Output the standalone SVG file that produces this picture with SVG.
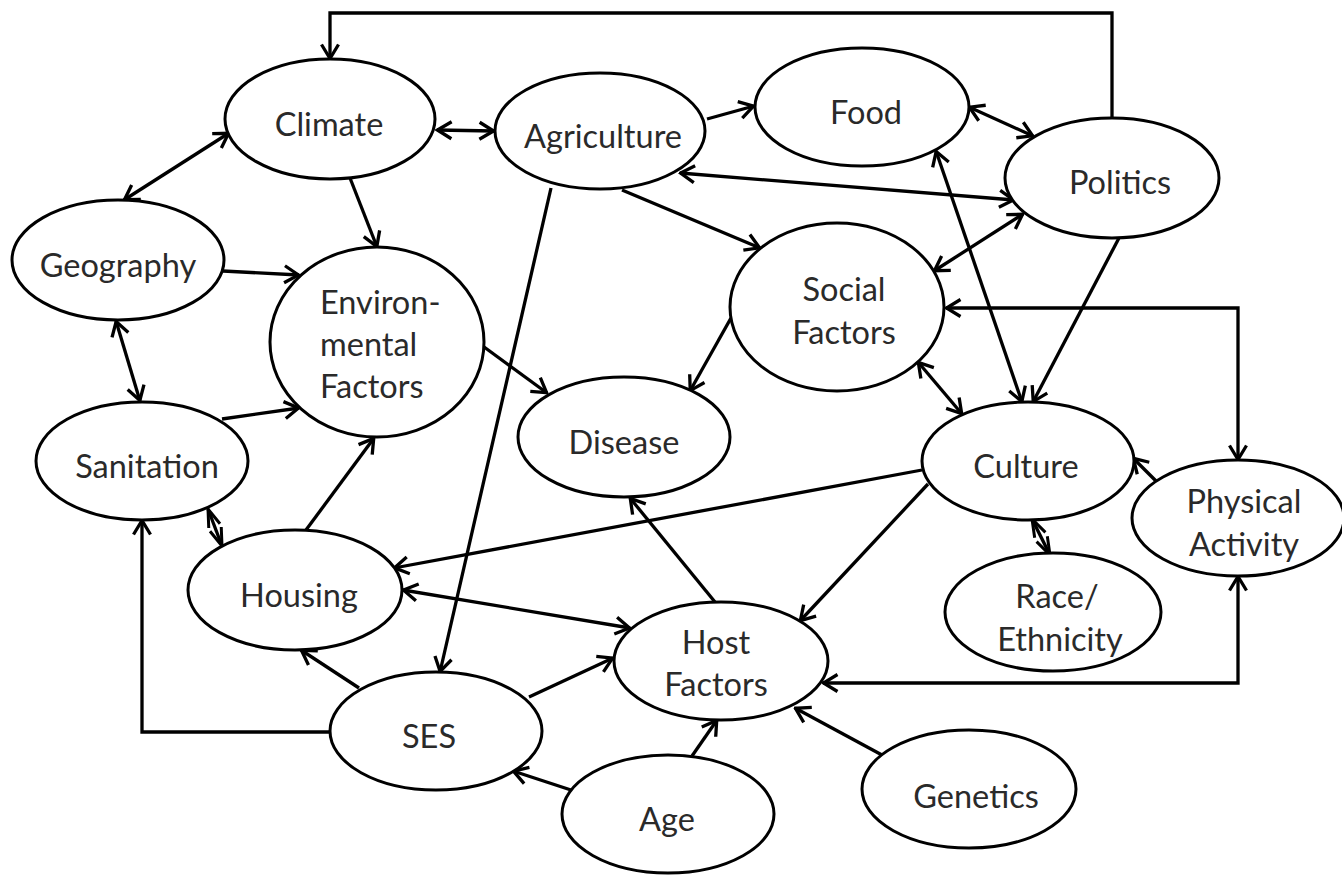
<svg xmlns="http://www.w3.org/2000/svg" width="1342" height="875" viewBox="0 0 1342 875">
<style>
.n ellipse{fill:#fff;stroke:#000;stroke-width:3}
.n text{font-family:Lato,"Open Sans","Liberation Sans",sans-serif;font-size:32.5px;fill:#2a2a2a;text-anchor:middle}
.c path{fill:none;stroke:#000;stroke-width:3.3}
.e{marker-end:url(#a)}
.d{marker-start:url(#a);marker-end:url(#a)}
.m{marker-start:url(#b);marker-end:url(#b)}
</style>
<defs>
<marker id="a" viewBox="0 0 18 22" refX="16.5" refY="11" markerWidth="18" markerHeight="22" markerUnits="userSpaceOnUse" orient="auto-start-reverse">
<path d="M2,2.5 L16,11 L2,19.5" fill="none" stroke="#000" stroke-width="3.3"/>
</marker>
<marker id="b" viewBox="0 0 22 16" refX="20" refY="8" markerWidth="22" markerHeight="16" markerUnits="userSpaceOnUse" orient="auto-start-reverse">
<path d="M2,2 L20,8 L2,14" fill="none" stroke="#000" stroke-width="3"/>
</marker>
</defs>
<rect width="1342" height="875" fill="#fff"/>
<g class="c">
<path class="d" d="M437,130 L494,131"/>
<path class="d" d="M229,133 L124,200"/>
<path class="e" d="M350,178 L377,247"/>
<path class="e" d="M223,271 L299,275"/>
<path class="d" d="M116,321 L140,401"/>
<path class="e" d="M222,419 L299,408"/>
<path class="e" d="M480,344 L547,393"/>
<path class="e" d="M306,530 L374,438"/>
<path class="m" d="M208,509 L222,546"/>
<path class="e" d="M551,188 L440,672"/>
<path class="e" d="M707,119 L754,106"/>
<path class="d" d="M969,107 L1033,136"/>
<path class="d" d="M680,173 L1014,200"/>
<path class="e" d="M622,190 L760,248"/>
<path class="d" d="M1023,214 L934,271"/>
<path class="d" d="M936,151 L1022,402"/>
<path class="e" d="M1119,238 L1033,402"/>
<path class="e" d="M731,318 L690,391"/>
<path class="d" d="M918,362 L962,414"/>
<path class="e" d="M922,470 L394,568"/>
<path class="e" d="M928,484 L800,621"/>
<path class="m" d="M1032,519 L1050,555"/>
<path class="e" d="M1157,482 L1133,458"/>
<path class="e" d="M715,602 L630,498"/>
<path class="d" d="M403,590 L630,628"/>
<path class="e" d="M359,688 L301,650"/>
<path class="e" d="M529,697 L613,658"/>
<path class="e" d="M571,790 L513,771"/>
<path class="e" d="M692,756 L717,720"/>
<path class="e" d="M882,755 L795,708"/>
<path class="e" d="M1112,118 V13 H330 V59"/>
<path class="d" d="M946,308 H1238 V460"/>
<path class="d" d="M823,683 H1238 V576"/>
<path class="e" d="M330,732 H142 V520"/>
</g>
<g class="n" id="climate"><ellipse cx="330" cy="119" rx="105" ry="60"/><text x="329" y="136">Climate</text></g>
<g class="n" id="agriculture"><ellipse cx="600" cy="131" rx="105" ry="58"/><text x="603" y="148">Agriculture</text></g>
<g class="n" id="food"><ellipse cx="862" cy="107" rx="107" ry="59"/><text x="866" y="124">Food</text></g>
<g class="n" id="politics"><ellipse cx="1112" cy="178" rx="107" ry="60"/><text x="1120" y="194">Politics</text></g>
<g class="n" id="geography"><ellipse cx="118" cy="260" rx="106" ry="60"/><text x="118" y="277">Geography</text></g>
<g class="n" id="environmental"><ellipse cx="377" cy="342" rx="107" ry="95"/><text x="320" y="314" style="text-anchor:start">Environ-</text><text x="320" y="356" style="text-anchor:start">mental</text><text x="320" y="398" style="text-anchor:start">Factors</text></g>
<g class="n" id="social"><ellipse cx="837" cy="307" rx="107" ry="84"/><text x="844" y="301">Social</text><text x="844" y="344">Factors</text></g>
<g class="n" id="disease"><ellipse cx="624" cy="437" rx="106" ry="60"/><text x="624" y="454">Disease</text></g>
<g class="n" id="sanitation"><ellipse cx="142" cy="461" rx="106" ry="59"/><text x="147" y="478">Sanitation</text></g>
<g class="n" id="culture"><ellipse cx="1028" cy="461" rx="106" ry="59"/><text x="1026" y="478">Culture</text></g>
<g class="n" id="physical"><ellipse cx="1238" cy="518" rx="106" ry="58"/><text x="1244" y="513">Physical</text><text x="1244" y="556">Activity</text></g>
<g class="n" id="housing"><ellipse cx="295" cy="590" rx="107" ry="60"/><text x="299" y="607">Housing</text></g>
<g class="n" id="race"><ellipse cx="1053" cy="612" rx="108" ry="59"/><text x="1057" y="608">Race/</text><text x="1060" y="651">Ethnicity</text></g>
<g class="n" id="host"><ellipse cx="721" cy="661" rx="107" ry="59"/><text x="716" y="654">Host</text><text x="716" y="696">Factors</text></g>
<g class="n" id="ses"><ellipse cx="436" cy="731" rx="106" ry="59"/><text x="429" y="748">SES</text></g>
<g class="n" id="age"><ellipse cx="668" cy="814" rx="106" ry="59"/><text x="667" y="831">Age</text></g>
<g class="n" id="genetics"><ellipse cx="969" cy="789" rx="107" ry="59"/><text x="976" y="808">Genetics</text></g>
</svg>
